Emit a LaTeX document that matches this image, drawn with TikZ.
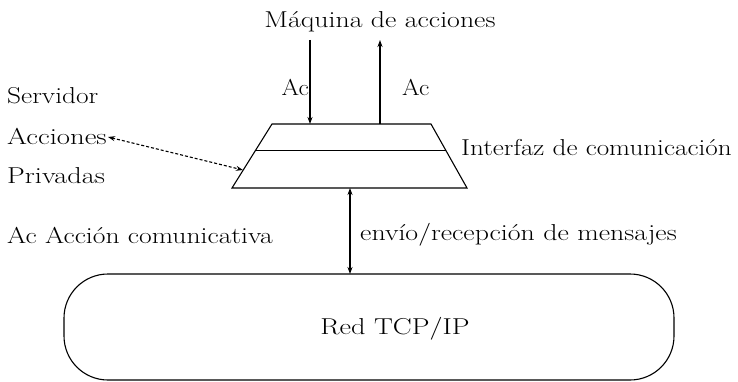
\documentclass[tikz,border=0pt]{standalone}
\usepackage{fontspec}
\setmainfont{Latin Modern Roman}
\usetikzlibrary{arrows.meta,calc}
\newcommand{\wide}[2]{\scalebox{#1}[1]{#2}}
\begin{document}
\begin{tikzpicture}[x=1pt,y=-1pt,
  lbl/.style={font=\fontsize{23}{27}\selectfont, inner sep=0pt, anchor=west},
  ln/.style={line width=1.1pt},
  tip/.style={-{Stealth[length=7pt,width=5pt]}},
  both/.style={{Stealth[length=7pt,width=5pt]}-{Stealth[length=7pt,width=5pt]}}]
\useasboundingbox (0,0) rectangle (738,382);
\node[lbl, anchor=center] (maq) at (380,22) {\wide{1.21}{Máquina de acciones}};
% trapezoid
\coordinate (tl) at (272,124);
\coordinate (tr) at (431,124);
\coordinate (bl) at (232,188);
\coordinate (br) at (467,188);
\coordinate (ml) at ($(tl)!0.42!(bl)$);
\coordinate (mr) at ($(tr)!0.42!(br)$);
\draw[ln] (tl) -- (tr) -- (br) -- (bl) -- cycle;
\draw[ln] (ml) -- (mr);
\coordinate (a1top) at (310,40);
\coordinate (a1bot) at (310,124);
\coordinate (a2top) at (380,40);
\coordinate (a2bot) at (380,124);
\draw[ln,tip] (a1top) -- (a1bot);
\draw[ln,tip] (a2bot) -- (a2top);
\node[lbl, anchor=east] (ac1) at (309,87) {\wide{1.1}{Ac}};
\node[lbl] (ac2) at (402,87) {\wide{1.1}{Ac}};
\node[lbl] (inter) at (461,148) {\wide{1.18}{Interfaz de comunicación}};
\node[lbl] (serv) at (7,96) {\wide{1.19}{Servidor}};
\node[lbl] (acc) at (7,136) {\wide{1.25}{Acciones}};
\node[lbl] (priv) at (7,176) {\wide{1.23}{Privadas}};
\coordinate (sl) at (243,170);
\draw[ln,densely dashed,both] (acc.east) ++(1,1) -- (sl);
\node[lbl] (leg) at (7,235) {\wide{1.2}{Ac Acción comunicativa}};
\node[lbl] (env) at (360,235) {\wide{1.21}{envío/recepción de mensajes}};
\node[draw, ln, rounded corners=44pt, minimum width=610pt, minimum height=106pt, inner sep=0pt] (red) at (369,327) {};
\node[lbl, anchor=center] (redt) at (395,329) {\wide{1.23}{Red TCP/IP}};
\coordinate (rtop) at (350,274);
\draw[ln,both] (350,188) -- (rtop);
\end{tikzpicture}
\end{document}
